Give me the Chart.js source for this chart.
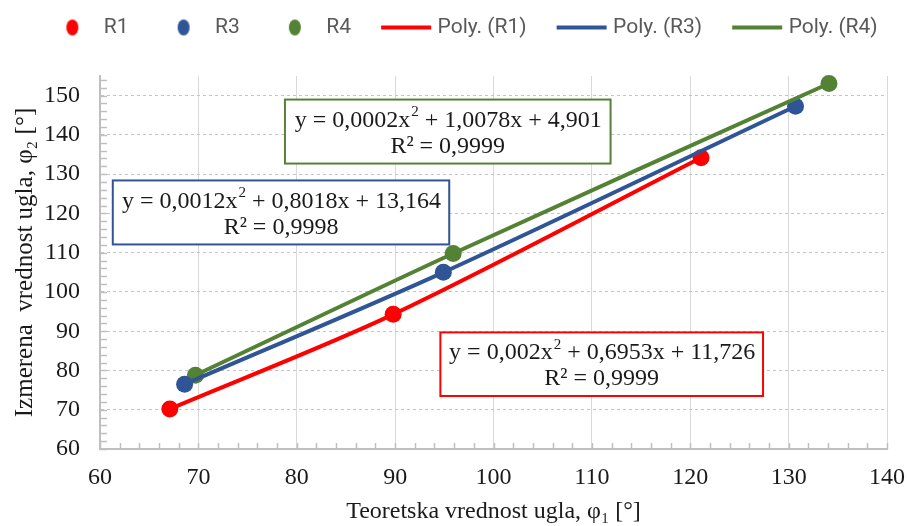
<!DOCTYPE html>
<html>
<head>
<meta charset="utf-8">
<script src="https://cdn.jsdelivr.net/npm/chart.js@4.4.1/dist/chart.umd.min.js"></script>
<style>
  html, body { margin: 0; padding: 0; background: #fff; }
  #wrap { width: 907px; height: 526px; }
</style>
</head>
<body>
<div id="wrap"><canvas id="chart" width="907" height="526"></canvas></div>
<script>
(function () {
  "use strict";

  const R1_X = [67.1, 89.8, 121.1];
  const R1_Y = [70.2, 94.3, 134.2];
  const R3_X = [68.6, 94.9, 130.7];
  const R3_Y = [76.5, 105.0, 147.3];
  const R4_X = [69.7, 95.9, 134.1];
  const R4_Y = [78.8, 109.8, 153.1];

  const X_TICKS = [60, 70, 80, 90, 100, 110, 120, 130, 140];
  const Y_TICKS = [60, 70, 80, 90, 100, 110, 120, 130, 140, 150];

  const SERIES_NAMES = ["R1", "R3", "R4"];
  const TREND_NAMES = ["Poly. (R1)", "Poly. (R3)", "Poly. (R4)"];
  const COLORS = ["#ff0000", "#2f5597", "#548235"];

  const EQUATIONS = [
    { base: "y = 0,002x", sup: "2", rest: " + 0,6953x + 11,726", r2: "R\u00b2 = 0,9999" },
    { base: "y = 0,0012x", sup: "2", rest: " + 0,8018x + 13,164", r2: "R\u00b2 = 0,9998" },
    { base: "y = 0,0002x", sup: "2", rest: " + 1,0078x + 4,901", r2: "R\u00b2 = 0,9999" },
  ];

  const SERIF = "'Liberation Serif', 'Times New Roman', serif";
  const LEG_W = 66;

  function toPoints(xs, ys) {
    return xs.map((x, i) => ({ x: x, y: ys[i] }));
  }

  const POINTS = [toPoints(R1_X, R1_Y), toPoints(R3_X, R3_Y), toPoints(R4_X, R4_Y)];

  function legendIcon(kind, color) {
    const c = document.createElement("canvas");
    c.width = LEG_W + 20;
    c.height = 20;
    const g = c.getContext("2d");
    const cx = 10 + LEG_W - 21;
    g.fillStyle = color;
    g.strokeStyle = color;
    g.beginPath();
    if (kind === "dot") {
      g.ellipse(cx, 10, 6, 8, 0, 0, Math.PI * 2);
      g.fill();
    } else {
      g.lineWidth = 4;
      g.moveTo(cx - 25, 10);
      g.lineTo(cx + 25, 10);
      g.stroke();
    }
    return c;
  }

  const datasets = [];
  SERIES_NAMES.forEach((name, i) => {
    datasets.push({
      label: name,
      data: POINTS[i],
      backgroundColor: COLORS[i],
      borderColor: COLORS[i],
      pointRadius: 8.5,
      pointBorderWidth: 0,
      showLine: false,
      clip: false,
      order: 1,
      kind: "dot",
    });
  });
  TREND_NAMES.forEach((name, i) => {
    datasets.push({
      label: name,
      data: POINTS[i],
      borderColor: COLORS[i],
      backgroundColor: COLORS[i],
      borderWidth: 4,
      pointRadius: 0,
      showLine: true,
      tension: 0.3,
      fill: false,
      order: 0,
      kind: "line",
    });
  });

  // trendline equation boxes, placed in data units
  const BOXES = [
    { x1: 94.6, x2: 127.4, yTop: 89.7, yBot: 73.5, color: COLORS[0], eq: EQUATIONS[0] },
    { x1: 61.3, x2: 95.5, yTop: 128.4, yBot: 112.1, color: COLORS[1], eq: EQUATIONS[1] },
    { x1: 78.8, x2: 111.9, yTop: 149.0, yBot: 132.7, color: COLORS[2], eq: EQUATIONS[2] },
  ];

  function drawEquation(ctx, cx, cy, eq) {
    const main = "24px " + SERIF;
    const small = "15px " + SERIF;
    ctx.font = main;
    const w1 = ctx.measureText(eq.base).width;
    const w3 = ctx.measureText(eq.rest).width;
    ctx.font = small;
    const w2 = ctx.measureText(eq.sup).width;
    const x0 = cx - (w1 + w2 + w3) / 2;
    ctx.textAlign = "left";
    ctx.textBaseline = "middle";
    ctx.font = main;
    ctx.fillText(eq.base, x0, cy);
    ctx.font = small;
    ctx.fillText(eq.sup, x0 + w1 + 1, cy - 8);
    ctx.font = main;
    ctx.fillText(eq.rest, x0 + w1 + w2 + 1, cy);
  }

  const eqBoxes = {
    id: "eqBoxes",
    afterDatasetsDraw(chart) {
      const ctx = chart.ctx;
      const xs = chart.scales.x;
      const ys = chart.scales.y;
      ctx.save();
      BOXES.forEach((b) => {
        const left = xs.getPixelForValue(b.x1);
        const right = xs.getPixelForValue(b.x2);
        const top = ys.getPixelForValue(b.yTop);
        const bot = ys.getPixelForValue(b.yBot);
        ctx.fillStyle = "#ffffff";
        ctx.fillRect(left, top, right - left, bot - top);
        ctx.lineWidth = 2;
        ctx.strokeStyle = b.color;
        ctx.strokeRect(left, top, right - left, bot - top);
        const cx = (left + right) / 2;
        const cy = (top + bot) / 2;
        ctx.fillStyle = "#1a1a1a";
        drawEquation(ctx, cx, cy - 11, b.eq);
        ctx.font = "24px " + SERIF;
        ctx.textAlign = "center";
        ctx.fillText(b.eq.r2, cx, cy + 15);
      });
      ctx.restore();
    },
  };

  // small inward ticks every 2 units, like the Excel minor marks
  const minorTicks = {
    id: "minorTicks",
    afterDatasetsDraw(chart) {
      const ctx = chart.ctx;
      const xs = chart.scales.x;
      const ys = chart.scales.y;
      const area = chart.chartArea;
      ctx.save();
      ctx.strokeStyle = "#bfbfbf";
      ctx.lineWidth = 1.5;
      ctx.beginPath();
      for (let v = xs.min; v <= xs.max; v += 2) {
        const px = Math.round(xs.getPixelForValue(v)) + 0.5;
        ctx.moveTo(px, area.bottom);
        ctx.lineTo(px, area.bottom - 6);
      }
      for (let v = ys.min; v <= ys.max; v += 2) {
        const py = Math.round(ys.getPixelForValue(v)) + 0.5;
        ctx.moveTo(area.left, py);
        ctx.lineTo(area.left + 7, py);
      }
      ctx.stroke();
      ctx.restore();
    },
  };

  // leave room between the legend row and the plot, as in the original
  const legendSpace = {
    id: "legendSpace",
    beforeLayout(chart) {
      const lg = chart.legend;
      if (lg && !lg._spacePatched) {
        const fit = lg.fit.bind(lg);
        lg.fit = function () {
          fit();
          this.height = 69;
        };
        lg._spacePatched = true;
      }
    },
  };

  const canvas = document.getElementById("chart");

  new Chart(canvas, {
    type: "scatter",
    data: { datasets: datasets },
    options: {
      responsive: false,
      animation: false,
      devicePixelRatio: 1,
      events: [],
      layout: { padding: { top: 7, right: 2, bottom: 0, left: 0 } },
      plugins: {
        tooltip: { enabled: false },
        legend: {
          position: "top",
          labels: {
            usePointStyle: true,
            pointStyleWidth: LEG_W,
            padding: 10,
            color: "#595959",
            font: { family: "Roboto, 'Open Sans', sans-serif", size: 21 },
            generateLabels(chart) {
              return chart.data.datasets.map((ds, i) => ({
                text: ds.label,
                fillStyle: ds.backgroundColor,
                strokeStyle: ds.borderColor,
                lineWidth: 0,
                hidden: false,
                datasetIndex: i,
                fontColor: "#595959",
                pointStyle: legendIcon(ds.kind, ds.borderColor),
              }));
            },
          },
        },
      },
      scales: {
        x: {
          type: "linear",
          min: 60,
          max: 140,
          afterBuildTicks(scale) {
            scale.ticks = X_TICKS.map((v) => ({ value: v }));
          },
          afterFit(scale) {
            scale.height = 77;
            scale.paddingRight = 20;
          },
          ticks: {
            color: "#1a1a1a",
            padding: 14,
            font: { family: SERIF, size: 24 },
          },
          grid: { color: "#d9d9d9", lineWidth: 1, drawTicks: false },
          border: { color: "#bfbfbf", width: 2 },
          title: {
            display: true,
            text: "Teoretska vrednost ugla, \u03c6\u2081 [\u00b0]",
            color: "#1a1a1a",
            font: { family: SERIF, size: 24 },
            padding: { top: 0, bottom: 0 },
          },
        },
        y: {
          type: "linear",
          min: 60,
          max: 155,
          afterBuildTicks(scale) {
            scale.ticks = Y_TICKS.map((v) => ({ value: v }));
          },
          afterFit(scale) {
            scale.width = 100;
          },
          ticks: {
            color: "#1a1a1a",
            padding: 20,
            font: { family: SERIF, size: 24 },
          },
          grid: { color: "#c4c4c4", lineWidth: 1, drawTicks: false },
          border: { color: "#bfbfbf", width: 2, dash: [3, 3] },
          title: {
            display: true,
            text: "Izmerena  vrednost ugla, \u03c6\u2082 [\u00b0]",
            color: "#1a1a1a",
            font: { family: SERIF, size: 25 },
            padding: { top: 10, bottom: 0 },
          },
        },
      },
    },
    plugins: [minorTicks, eqBoxes, legendSpace],
  });
})();
</script>
</body>
</html>
